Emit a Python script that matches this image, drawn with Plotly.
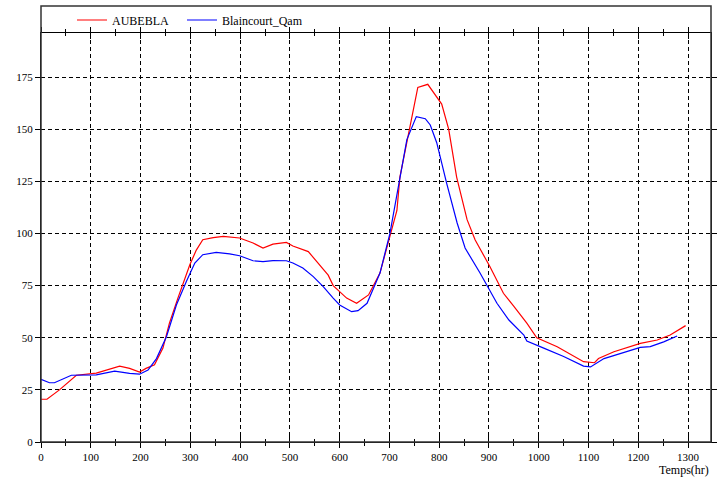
import plotly.graph_objects as go

# ---- data ----
aube_t = [0, 12, 37, 71, 111, 138, 158, 178, 198, 211, 228, 245, 258, 275, 299, 312, 325, 346, 366,
          399, 426, 446, 466, 493, 506, 537, 560, 577, 587, 614, 634, 658, 681, 701, 715, 721, 738,
          748, 757, 777, 795, 805, 819, 835, 856, 872, 902, 929, 950, 976, 996, 1037, 1090, 1112,
          1120, 1151, 1204, 1238, 1264, 1295]
aube_v = [20.5, 20.5, 25, 32, 33, 34.8, 36.4, 35.3, 33.5, 35.3, 37, 45, 57, 69, 85, 92, 97, 98, 98.6,
          97.8, 95.4, 93, 94.9, 95.7, 94, 91.3, 85, 80, 75, 69, 66.5, 70.5, 81, 98.6, 111, 127, 148,
          159.5, 170, 171.5, 165, 162, 150, 127, 106.6, 97, 84, 71.3, 65, 57, 50, 45.7, 38.5, 38,
          40, 43.3, 47.3, 48.9, 51.3, 55.8]

blai_t = [0, 17, 27, 61, 111, 148, 178, 198, 215, 232, 252, 272, 292, 309, 325, 352, 379, 399, 426,
          446, 466, 493, 506, 526, 547, 567, 587, 600, 624, 637, 655, 681, 701, 718, 735, 754, 772,
          782, 795, 815, 836, 852, 882, 916, 940, 970, 976, 1010, 1050, 1090, 1104, 1131, 1171,
          1204, 1224, 1251, 1278]
blai_v = [30, 28.4, 28.4, 32, 32.2, 34, 32.9, 32.5, 34.5, 40, 50.5, 65.7, 77, 85.8, 89.8, 90.9, 90.2,
          89.3, 86.9, 86.5, 87, 86.9, 85.8, 83.4, 79.3, 74.5, 69, 65.7, 62.5, 63, 66.5, 81, 100,
          122.6, 145, 156, 155, 152, 143.5, 124, 105, 93, 81, 66.5, 58.5, 51.3, 48.4, 45, 41, 36.4,
          36, 40, 42.8, 45.4, 45.7, 48, 50.8]

x_ticks = list(range(0, 1301, 100))
y_ticks = list(range(0, 176, 25))
x_title = "Temps(hr)"

FONT = "Liberation Serif, Times New Roman, serif"

fig = go.Figure()
fig.add_trace(go.Scatter(x=aube_t, y=aube_v, mode="lines", name="AUBEBLA",
                         line=dict(color="#ff0000", width=1.2), legend="legend"))
fig.add_trace(go.Scatter(x=blai_t, y=blai_v, mode="lines", name="Blaincourt_Qam",
                         line=dict(color="#0000ff", width=1.2), legend="legend2"))
# invisible trace to carry the overlay axis (inside ticks)
fig.add_trace(go.Scatter(x=[0], y=[0], xaxis="x2", mode="markers",
                         marker=dict(opacity=0), showlegend=False, hoverinfo="skip"))

XR = [0, 1346]
YR = [0, 196.1]

leg_common = dict(orientation="h", xref="container", yref="container",
                  y=1 - 20 / 481, xanchor="left", yanchor="middle",
                  bgcolor="rgba(0,0,0,0)", font=dict(family=FONT, size=12), itemwidth=30)

fig.update_layout(
    width=717, height=481,
    margin=dict(l=41, r=6, t=33, b=39, autoexpand=False),
    paper_bgcolor="white", plot_bgcolor="white",
    font=dict(family=FONT, size=11, color="black"),
    showlegend=True,
    legend=dict(x=72 / 717, **leg_common),
    legend2=dict(x=182 / 717, **leg_common),
    xaxis=dict(range=XR, tickvals=x_ticks, showline=True, linecolor="black", linewidth=1,
               mirror="ticks", ticks="outside", ticklen=5, tickcolor="black",
               minor=dict(dtick=50, tick0=0, ticks="outside", ticklen=3, tickcolor="black",
                          showgrid=False),
               showgrid=True, gridcolor="black", gridwidth=1, griddash="4px,3px",
               zeroline=False, automargin=False, tickfont=dict(family=FONT, size=11)),
    xaxis2=dict(range=XR, overlaying="x", side="bottom", tickvals=x_ticks, showline=False,
                mirror="ticks", ticks="inside", ticklen=6, tickcolor="black",
                minor=dict(dtick=50, tick0=0, ticks="inside", ticklen=3, tickcolor="black",
                           showgrid=False),
                showticklabels=False, showgrid=False, zeroline=False, automargin=False),
    yaxis=dict(range=YR, tickvals=y_ticks, showline=True, linecolor="black", linewidth=1,
               mirror="ticks", ticks="outside", ticklen=5, tickcolor="black",
               showgrid=True, gridcolor="black", gridwidth=1, griddash="4px,3px",
               zeroline=False, automargin=False, tickfont=dict(family=FONT, size=11)),
)

# outer frame enclosing the legend band
fig.add_shape(type="rect", xref="paper", yref="paper", x0=0, x1=1, y0=0, y1=1.066,
              line=dict(color="#333333", width=1.5), fillcolor="rgba(0,0,0,0)", layer="above")

fig.add_annotation(text=x_title, xref="paper", yref="paper", x=1.0, y=-0.068,
                   xanchor="right", yanchor="middle", showarrow=False,
                   font=dict(family=FONT, size=12))

fig.write_html("out.html", config={"displayModeBar": False},
               post_script="document.body.style.margin='0px';")
